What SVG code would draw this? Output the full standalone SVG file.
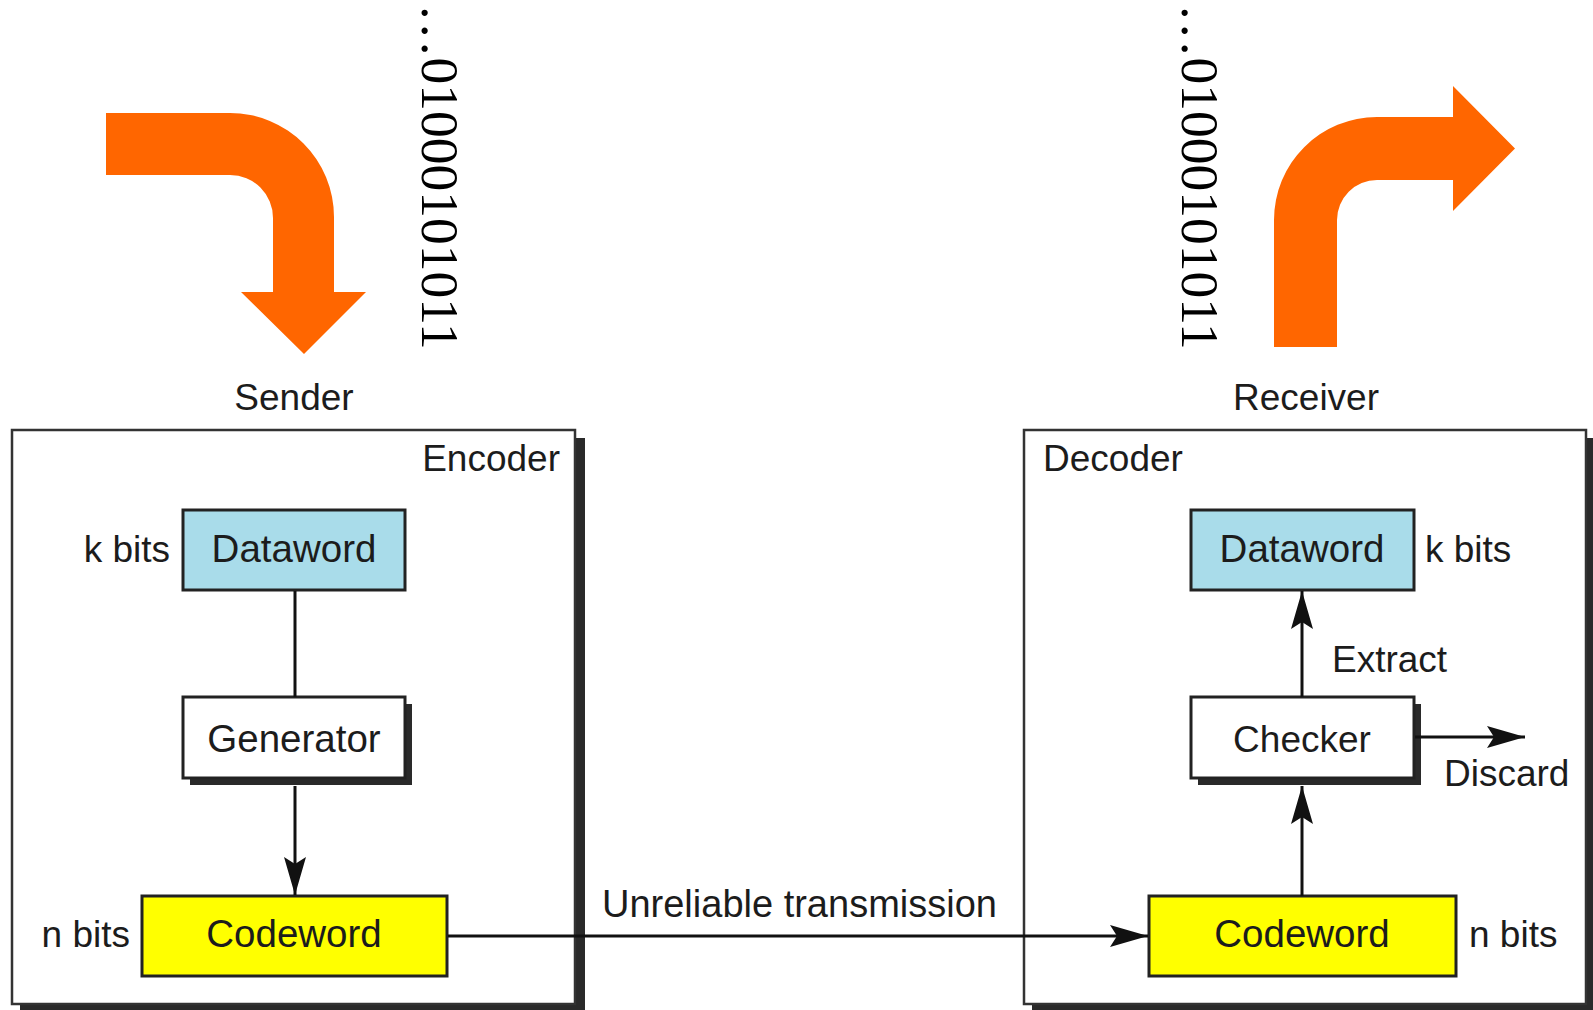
<svg xmlns="http://www.w3.org/2000/svg" width="1593" height="1010" viewBox="0 0 1593 1010">
  <style>
    .lbl { font-family: "Liberation Sans", Arial, sans-serif; font-size: 37px; fill: #1c1c1c; }
    .word { font-size: 38.5px; }
    .mid { text-anchor: middle; }
    .end { text-anchor: end; }
    .bits { font-family: "Liberation Serif", "Times New Roman", serif; font-size: 53.5px; fill: #000; }
    .turn { fill: #ff6600; }
    .frame { fill: #fff; stroke: #333; stroke-width: 2.5; }
    .shadow { fill: #2a2a2a; }
    .box { stroke: #222; stroke-width: 3; }
    .data { fill: #a9dcea; }
    .code { fill: #ffff00; }
    .plain { fill: #fff; }
    .wire { stroke: #111; stroke-width: 3; fill: none; }
  </style>
  <defs>
    <marker id="head" viewBox="-40 -12 42 24" markerWidth="42" markerHeight="24" refX="0" refY="0" orient="auto" markerUnits="userSpaceOnUse">
      <path d="M0,0 L-38,-11 L-31,0 L-38,11 Z" fill="#111"/>
    </marker>
  </defs>

  <rect width="1593" height="1010" fill="#fff"/>

  <!-- bent arrow into the sender -->
  <g id="sender-arrow">
    <path class="turn" d="M106,113 L230,113 A104,104 0 0 1 334,217 L334,292 L366,292 L304,354 L241,292 L273,292 L273,218 A43,43 0 0 0 230,175 L106,175 Z"/>
  </g>

  <!-- bent arrow out of the receiver -->
  <g id="receiver-arrow">
    <path class="turn" d="M1274,347 L1274,220 A103,103 0 0 1 1377,117 L1453,117 L1453,86 L1515,148.5 L1453,211 L1453,180 L1377,180 A40,40 0 0 0 1337,220 L1337,347 Z"/>
  </g>

  <!-- bit streams -->
  <g id="bits-sender">
    <text class="bits" transform="translate(422,4) rotate(90)">…01000101011</text>
  </g>
  <g id="bits-receiver">
    <text class="bits" transform="translate(1182,4) rotate(90)">…01000101011</text>
  </g>

  <!-- encoder frame -->
  <g id="encoder">
    <rect class="shadow" x="575" y="438" width="10" height="572"/>
    <rect class="shadow" x="20" y="1004" width="565" height="8"/>
    <rect class="frame" x="12" y="430" width="563" height="574"/>
    <text class="lbl mid" x="294" y="410">Sender</text>
    <text class="lbl end" x="560" y="471">Encoder</text>
  </g>

  <!-- decoder frame -->
  <g id="decoder">
    <rect class="shadow" x="1586" y="438" width="10" height="572"/>
    <rect class="shadow" x="1032" y="1004" width="564" height="8"/>
    <rect class="frame" x="1024" y="430" width="562" height="574"/>
    <text class="lbl mid" x="1306" y="410">Receiver</text>
    <text class="lbl" x="1043" y="471">Decoder</text>
  </g>

  <g id="dataword-enc">
    <rect class="box data" x="183" y="510" width="222" height="80"/>
    <text class="lbl word mid" x="294" y="562">Dataword</text>
    <text class="lbl end" x="170" y="562">k bits</text>
  </g>

  <g id="generator">
    <rect class="shadow" x="190" y="704" width="222" height="81"/>
    <rect class="box plain" x="183" y="697" width="222" height="81"/>
    <text class="lbl word mid" x="294" y="752">Generator</text>
  </g>

  <g id="codeword-enc">
    <rect class="box code" x="142" y="896" width="305" height="80"/>
    <text class="lbl word mid" x="294" y="947">Codeword</text>
    <text class="lbl end" x="130" y="947">n bits</text>
  </g>

  <g id="dataword-dec">
    <rect class="box data" x="1191" y="510" width="223" height="80"/>
    <text class="lbl word mid" x="1302" y="562">Dataword</text>
    <text class="lbl" x="1425" y="562">k bits</text>
  </g>

  <g id="checker">
    <rect class="shadow" x="1198" y="704" width="223" height="81"/>
    <rect class="box plain" x="1191" y="697" width="223" height="81"/>
    <text class="lbl mid" x="1302" y="752">Checker</text>
  </g>

  <g id="codeword-dec">
    <rect class="box code" x="1149" y="896" width="307" height="80"/>
    <text class="lbl word mid" x="1302" y="947">Codeword</text>
    <text class="lbl" x="1469" y="947">n bits</text>
  </g>

  <!-- connectors -->
  <g id="connectors">
    <line class="wire" x1="295" y1="591" x2="295" y2="697"/>
    <line class="wire" x1="295" y1="786" x2="295" y2="895" marker-end="url(#head)"/>
    <line class="wire" x1="448" y1="936" x2="1148" y2="936" marker-end="url(#head)"/>
    <line class="wire" x1="1302" y1="896" x2="1302" y2="786" marker-end="url(#head)"/>
    <line class="wire" x1="1302" y1="697" x2="1302" y2="591" marker-end="url(#head)"/>
    <line class="wire" x1="1415" y1="737" x2="1525" y2="737" marker-end="url(#head)"/>
    <text class="lbl" x="602" y="917" style="font-size:38px">Unreliable transmission</text>
    <text class="lbl" x="1332" y="672">Extract</text>
    <text class="lbl" x="1444" y="786">Discard</text>
  </g>
</svg>
